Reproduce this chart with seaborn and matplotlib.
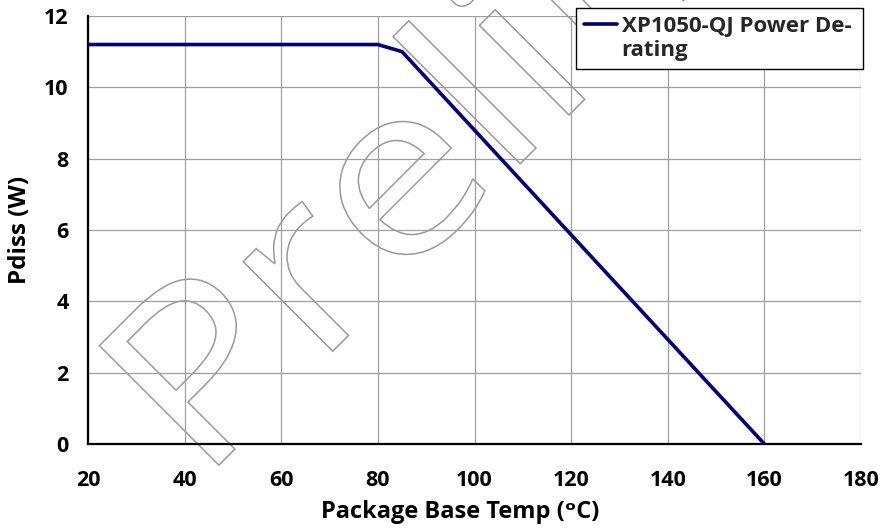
import numpy as np
import pandas as pd
import matplotlib
matplotlib.use('Agg')
import matplotlib.pyplot as plt
import seaborn as sns
from matplotlib.textpath import TextPath
from matplotlib.patches import PathPatch
from matplotlib.font_manager import FontProperties
from matplotlib.transforms import Affine2D

# derating curve
temp_c = [20, 80, 85, 160]
pdiss_w = [11.2, 11.2, 11.0, 0.0]
series_name = 'XP1050-QJ Power De-\nrating'
x_ticks = [20, 40, 60, 80, 100, 120, 140, 160, 180]
y_ticks = [0, 2, 4, 6, 8, 10, 12]
watermark = 'Preliminary'

sns.set_theme(style='white')
plt.rcParams['font.family'] = ['Open Sans', 'DejaVu Sans']

df = pd.DataFrame({'temp': temp_c, 'pdiss': pdiss_w, 'name': series_name})

fig = plt.figure(figsize=(8.81, 5.29), dpi=100)
ax = fig.add_axes([88 / 881, 1 - 444 / 529, (861 - 88) / 881, (444 - 16) / 529])

sns.lineplot(data=df, x='temp', y='pdiss', hue='name', palette=['#000080'],
             linewidth=2.6, ax=ax, zorder=3, sort=False)

ax.set_xlim(20, 180)
ax.set_ylim(0, 12)
ax.set_xticks(x_ticks)
ax.set_yticks(y_ticks)
ax.grid(True, color='#a0a0a0', linewidth=0.9)
ax.set_axisbelow(True)

for s in ['top', 'right']:
    ax.spines[s].set_visible(False)
for s in ['left', 'bottom']:
    ax.spines[s].set_color('black')
    ax.spines[s].set_linewidth(1.6)

ax.tick_params(axis='both', which='major', direction='out', color='black',
               width=1, labelsize=15.5, labelcolor='black')
ax.tick_params(axis='y', length=6, pad=8)
ax.tick_params(axis='x', length=5, pad=14)
for lab in ax.get_xticklabels() + ax.get_yticklabels():
    lab.set_fontweight('bold')

ax.set_xlabel('Package Base Temp (\u1d52C)', fontsize=17, fontweight='bold',
              color='black')
ax.set_ylabel('Pdiss (W)', fontsize=17.5, fontweight='bold', color='black')
ax.xaxis.set_label_coords((460 - 88) / 773, -0.13)
ax.yaxis.set_label_coords((32 - 88) / 773, 0.5)

# outlined watermark, drawn as a path so it can be widened a little
wm_path = TextPath((0, 0), watermark, size=244, prop=FontProperties(family='Open Sans'))
wm_tr = (Affine2D().scale(1.12 / 100, 0.97 / 100).rotate_deg(45)
         .translate(200 / 100, 45 / 100) + fig.dpi_scale_trans)
wm_patch = PathPatch(wm_path, facecolor='none', edgecolor='#9a9a9a', linewidth=1.1,
                     transform=wm_tr, clip_on=False, zorder=2)
ax.add_artist(wm_patch)

leg = ax.legend(loc='upper left', bbox_to_anchor=(576 / 881, 0, 287 / 881, 1 - 8 / 529),
                bbox_transform=fig.transFigure, mode='expand', borderaxespad=0,
                frameon=True, fancybox=False, edgecolor='black', framealpha=1,
                prop={'weight': 'bold', 'size': 16}, handlelength=1.5,
                handletextpad=0.2, borderpad=0.35, title=None)
leg.get_frame().set_linewidth(1.0)
leg.set_zorder(5)
# put the handle beside the first line of the wrapped label
for col in leg._legend_handle_box.get_children():
    for row in col.get_children():
        row.align = 'top'

fig.savefig('out.png', dpi=100)
